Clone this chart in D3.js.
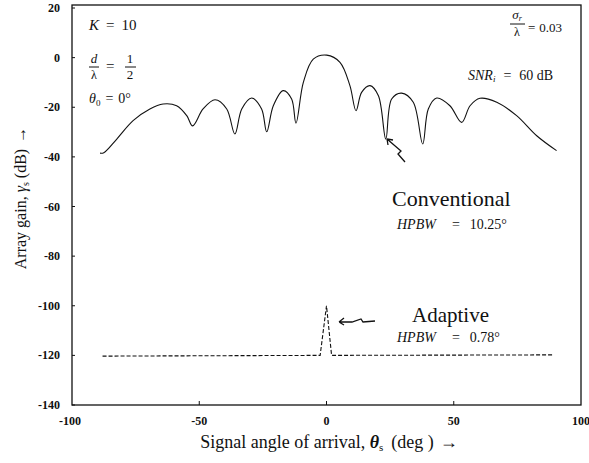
<!DOCTYPE html>
<html>
<head>
<meta charset="utf-8">
<script src="https://cdn.jsdelivr.net/npm/d3@7"></script>
<style>
  body { margin: 0; background: #fff; }
  svg text { font-family: "Liberation Serif", "DejaVu Serif", serif; fill: #111; }
</style>
</head>
<body>
<script>
// conventional beam pattern (deg, dB)
var convAngle = [-89, -87.5, -82.4, -76, -69.4, -64.2, -58.9, -54.9, -52.6,
  -48.5, -43.8, -39.2, -36, -33.3, -29.4, -25.5, -23.5, -20.9, -17, -13.7, -12,
  -9.1, -5.2, 0.1, 5.3, 9.2, 11.6, 13.8, 17.1, 20.4, 23.3, 25.6, 29.5, 34.1, 37.8,
  40, 43.3, 48.5, 53.1, 56.4, 60.3, 66.9, 74.7, 82.6, 90.4];
var convGain = [-38.5, -38.3, -32.8, -25.4, -20.7, -18.7, -19.4, -23.4, -27.5,
  -20.7, -17, -20.7, -30.8, -20.7, -16.3, -20.7, -29.9, -19.4, -13.3, -16.7, -26.4,
  -10, -0.6, 1.0, -1.9, -11.3, -21.4, -14, -11.3, -15.4, -32.8, -16.7, -14.3, -18, -34.8,
  -20.7, -16.3, -19.4, -26.1, -19.4, -16.4, -18, -23.4, -31.5, -37.5];

// adaptive pattern
var adaptAngle = [-88, -2.5, 0, 2, 89];
var adaptGain = [-120.3, -120, -100, -120, -119.8];

var xTicks = [-100, -50, 0, 50, 100];
var yTicks = [20, 0, -20, -40, -60, -80, -100, -120, -140];

var W = 589, H = 463;
var svg = d3.select("body").append("svg").attr("width", W).attr("height", H);

var x = d3.scaleLinear().domain([-100, 100]).range([72, 581]);
var y = d3.scaleLinear().domain([-140, 20]).range([405, 8]);

// frame
svg.append("rect").attr("x", 72).attr("y", 5).attr("width", 581 - 72).attr("height", 400)
  .attr("fill", "none").attr("stroke", "#111").attr("stroke-width", 1.3);

// y ticks (inward) + labels
svg.selectAll(".yt").data(yTicks).enter().append("line")
  .attr("x1", 72).attr("x2", 75).attr("y1", function (d) { return y(d); }).attr("y2", function (d) { return y(d); })
  .attr("stroke", "#111").attr("stroke-width", 1);
svg.selectAll(".yl").data(yTicks).enter().append("text")
  .attr("x", 60).attr("y", function (d) { return y(d) + 4; })
  .attr("text-anchor", "end").style("font-size", "12px").style("font-weight", "bold")
  .text(function (d) { return d; });

// x ticks + labels
svg.selectAll(".xt").data(xTicks.slice(1, 4)).enter().append("line")
  .attr("x1", function (d) { return x(d); }).attr("x2", function (d) { return x(d); })
  .attr("y1", 405).attr("y2", 401).attr("stroke", "#111").attr("stroke-width", 1);
svg.selectAll(".xl").data(xTicks).enter().append("text")
  .attr("x", function (d) { return x(d) - (d === -100 ? 2 : 0); }).attr("y", 425)
  .attr("text-anchor", "middle").style("font-size", "12px").style("font-weight", "bold")
  .text(function (d) { return d; });

// curves
var conv = convAngle.map(function (a, i) { return [a, convGain[i]]; });
var adapt = adaptAngle.map(function (a, i) { return [a, adaptGain[i]]; });

var line = d3.line().x(function (d) { return x(d[0]); }).y(function (d) { return y(d[1]); });

svg.append("path").datum(conv)
  .attr("d", line.curve(d3.curveCatmullRom.alpha(0.5)))
  .attr("fill", "none").attr("stroke", "#111").attr("stroke-width", 1.1);

svg.append("path").datum(adapt)
  .attr("d", d3.line().x(function (d) { return x(d[0]); }).y(function (d) { return y(d[1]); }))
  .attr("fill", "none").attr("stroke", "#111").attr("stroke-width", 1.1).attr("stroke-dasharray", "4,2");

// arrows
svg.append("path").attr("d", "M405,162 L398,154 L401,151 L387,139 M387,139 L388,145 M387,139 L393,140")
  .attr("fill", "none").attr("stroke", "#111").attr("stroke-width", 1.3);
svg.append("path").attr("d", "M375,321 L363,322 L361,319 L352,322 L339,322 M339,322 L344,318 M339,322 L344,325")
  .attr("fill", "none").attr("stroke", "#111").attr("stroke-width", 1.3);

// annotations, left
var t = svg.append("text").attr("x", 89).attr("y", 30).style("font-size", "15px");
t.append("tspan").style("font-style", "italic").text("K");
t.append("tspan").attr("dx", 7).text("=");
t.append("tspan").attr("dx", 7).text("10");

svg.append("text").attr("x", 94).attr("y", 63).attr("text-anchor", "middle").style("font-size", "13px").style("font-style", "italic").text("d");
svg.append("line").attr("x1", 89).attr("x2", 99).attr("y1", 67).attr("y2", 67).attr("stroke", "#111");
svg.append("text").attr("x", 94).attr("y", 79).attr("text-anchor", "middle").style("font-size", "12px").text("λ");
svg.append("text").attr("x", 106).attr("y", 71).style("font-size", "15px").text("=");
svg.append("text").attr("x", 130).attr("y", 63).attr("text-anchor", "middle").style("font-size", "13px").text("1");
svg.append("line").attr("x1", 125).attr("x2", 136).attr("y1", 67).attr("y2", 67).attr("stroke", "#111");
svg.append("text").attr("x", 130).attr("y", 79).attr("text-anchor", "middle").style("font-size", "13px").text("2");

var th = svg.append("text").attr("x", 89).attr("y", 103).style("font-size", "14px");
th.append("tspan").style("font-style", "italic").text("θ");
th.append("tspan").attr("dy", 3).style("font-size", "9px").text("0");
th.append("tspan").attr("dy", -3).attr("dx", 5).text("=");
th.append("tspan").attr("dx", 5).text("0°");

// annotations, right
svg.append("text").attr("x", 517).attr("y", 19).attr("text-anchor", "middle").style("font-size", "13px").style("font-style", "italic")
  .html("σ<tspan dy='2' style='font-size:8px'>r</tspan>");
svg.append("line").attr("x1", 510).attr("x2", 525).attr("y1", 24).attr("y2", 24).attr("stroke", "#111");
svg.append("text").attr("x", 517).attr("y", 36).attr("text-anchor", "middle").style("font-size", "12px").text("λ");
var sg = svg.append("text").attr("x", 528).attr("y", 32).style("font-size", "13px");
sg.append("tspan").text("=");
sg.append("tspan").attr("dx", 4).text("0.03");

var snr = svg.append("text").attr("x", 468).attr("y", 80).style("font-size", "14px");
snr.append("tspan").style("font-style", "italic").text("SNR");
snr.append("tspan").attr("dy", 2).style("font-size", "9px").style("font-style", "italic").text("i");
snr.append("tspan").attr("dy", -2).attr("dx", 8).text("=");
snr.append("tspan").attr("dx", 8).text("60 dB");

svg.append("text").attr("x", 392).attr("y", 206).style("font-size", "22px").text("Conventional");
var h1 = svg.append("text").attr("x", 397).attr("y", 229).style("font-size", "14px");
h1.append("tspan").style("font-style", "italic").text("HPBW");
h1.append("tspan").attr("dx", 16).text("=");
h1.append("tspan").attr("dx", 10).text("10.25°");

svg.append("text").attr("x", 412).attr("y", 322).style("font-size", "21px").text("Adaptive");
var h2 = svg.append("text").attr("x", 397).attr("y", 342).style("font-size", "14px");
h2.append("tspan").style("font-style", "italic").text("HPBW");
h2.append("tspan").attr("dx", 16).text("=");
h2.append("tspan").attr("dx", 10).text("0.78°");

// axis titles
var yl = svg.append("text").attr("transform", "translate(26,198) rotate(-90)").attr("text-anchor", "middle").style("font-size", "16px");
yl.append("tspan").text("Array gain, ");
yl.append("tspan").style("font-style", "italic").text("γ");
yl.append("tspan").attr("dy", 3).style("font-size", "10px").text("s");
yl.append("tspan").attr("dy", -3).attr("dx", 4).text("(dB)");
yl.append("tspan").attr("dx", 6).text("→");

var xl = svg.append("text").attr("x", 329).attr("y", 448).attr("text-anchor", "middle").style("font-size", "18px");
xl.append("tspan").text("Signal angle of arrival, ");
xl.append("tspan").style("font-style", "italic").style("font-weight", "bold").text("θ");
xl.append("tspan").attr("dy", 3).style("font-size", "11px").text("s");
xl.append("tspan").attr("dy", -3).attr("dx", 8).text("(deg )");
xl.append("tspan").attr("dx", 6).text("→");
</script>
</body>
</html>
